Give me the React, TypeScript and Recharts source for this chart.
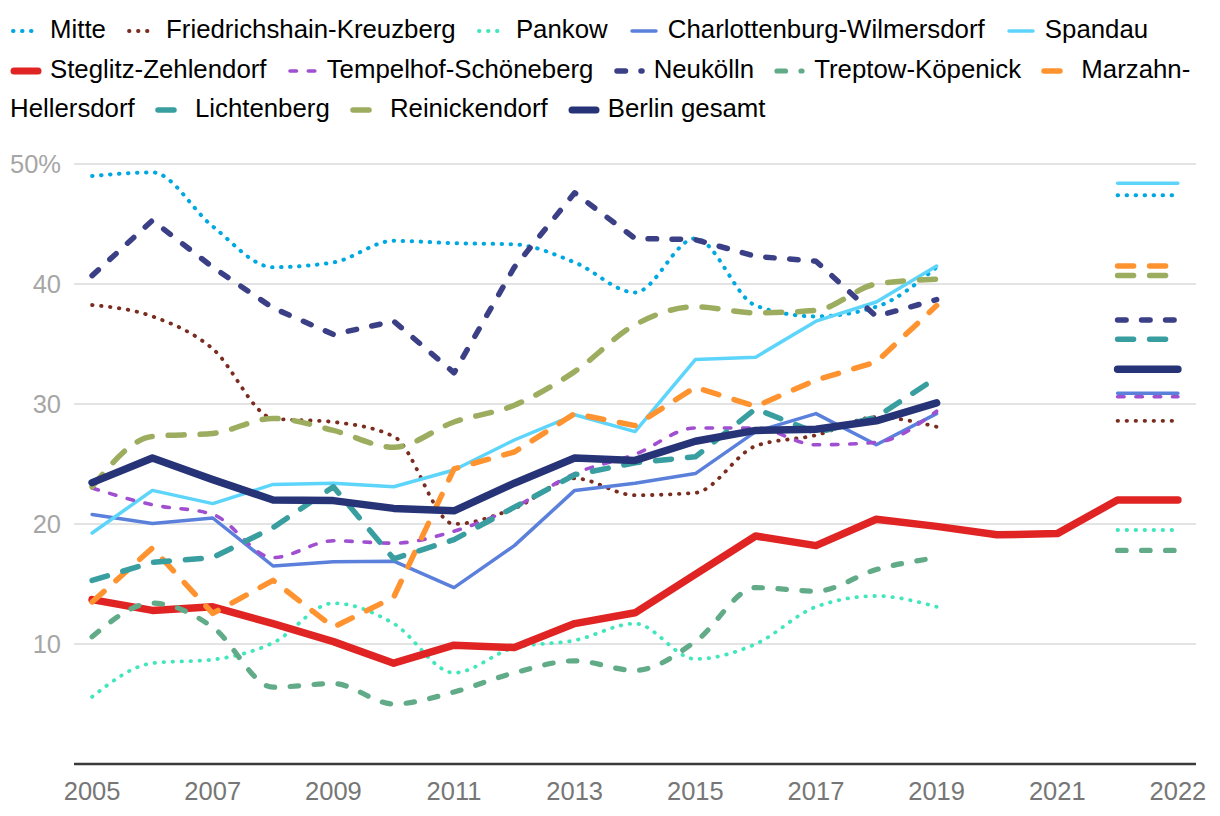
import React from 'react';
import { LineChart, Line, XAxis, YAxis, CartesianGrid } from 'recharts';

// Category labels (index 17 is the extra slot used for the 2022 marker segment)
const years = ['2005', '2006', '2007', '2008', '2009', '2010', '2011', '2012', '2013', '2014', '2015', '2016', '2017', '2018', '2019', '2020', '2021', '', '2022'];
const xTicks = [0, 2, 4, 6, 8, 10, 12, 14, 16, 18];
const yTicks = [0, 10, 20, 30, 40, 50];

const mitte = [49.0, 49.3, 44.8, 41.4, 41.8, 43.6, 43.4, 43.3, 41.8, 39.3, 43.8, 38.2, 37.3, 38.1, 41.4, null, null, 47.4, 47.4];
const friedrichshain = [38.25, 37.3, 34.6, 28.8, 28.5, 27.3, 20.0, 21.3, 23.8, 22.4, 22.6, 26.5, 27.4, 28.9, 28.1, null, null, 28.6, 28.6];
const pankow = [5.6, 8.4, 8.7, 10.1, 13.4, 11.7, 7.6, 9.7, 10.3, 11.7, 8.75, 10.0, 13.1, 14.0, 13.1, null, null, 19.5, 19.5];
const charlottenburg = [20.8, 20.05, 20.5, 16.5, 16.85, 16.9, 14.7, 18.2, 22.8, 23.4, 24.2, 27.7, 29.2, 26.6, 29.2, null, null, 30.9, 30.9];
const spandau = [19.25, 22.8, 21.7, 23.3, 23.4, 23.1, 24.5, 27.0, 29.1, 27.7, 33.7, 33.9, 36.9, 38.5, 41.5, null, null, 48.4, 48.4];
const steglitz = [13.7, 12.8, 13.1, 11.7, 10.2, 8.4, 9.9, 9.7, 11.7, 12.6, 15.8, 19.0, 18.2, 20.4, 19.8, 19.1, 19.2, 22.0, 22.0];
const tempelhof = [23.0, 21.6, 20.8, 17.2, 18.6, 18.4, 19.4, 21.4, 24.2, 25.8, 28.0, 28.0, 26.6, 26.8, 29.4, null, null, 30.6, 30.6];
const neukoelln = [40.7, 45.3, 41.4, 38.0, 35.8, 36.9, 32.6, 41.4, 47.6, 43.8, 43.7, 42.3, 41.9, 37.3, 38.7, null, null, 37.0, 37.0];
const treptow = [10.6, 13.4, 11.4, 6.4, 6.7, 5.0, 6.0, 7.6, 8.6, 7.8, 10.2, 14.7, 14.4, 16.2, 17.2, null, null, 17.8, 17.8];
const marzahn = [13.5, 18.0, 12.55, 15.3, 11.4, 13.9, 24.6, 26.0, 29.2, 28.2, 31.4, 29.8, 32.0, 33.5, 38.2, null, null, 41.5, 41.5];
const lichtenberg = [15.3, 16.8, 17.2, 19.7, 23.1, 17.1, 18.7, 21.4, 24.1, 25.1, 25.6, 29.6, 27.6, 28.9, 32.2, null, null, 35.4, 35.4];
const reinickendorf = [23.1, 27.3, 27.55, 28.8, 27.8, 26.4, 28.5, 29.9, 32.7, 36.6, 38.1, 37.6, 37.8, 40.0, 40.4, null, null, 40.7, 40.7];
const berlin = [23.45, 25.5, 23.7, 22.0, 21.95, 21.3, 21.1, 23.4, 25.5, 25.3, 26.9, 27.8, 27.9, 28.6, 30.1, null, null, 32.9, 32.9];

type SeriesDef = {
  key: string;
  name: string;
  values: (number | null)[];
  color: string;
  width: number;
  dash?: string;
  curve: 'monotone' | 'linear';
};

const series: SeriesDef[] = [
  { key: 'mitte', name: 'Mitte', values: mitte, color: '#00a8e1', width: 4, dash: '0.5 8.5', curve: 'monotone' },
  { key: 'fk', name: 'Friedrichshain-Kreuzberg', values: friedrichshain, color: '#7a2c1f', width: 3.8, dash: '0.5 8.5', curve: 'monotone' },
  { key: 'pankow', name: 'Pankow', values: pankow, color: '#42e6bd', width: 3.8, dash: '0.5 8.5', curve: 'monotone' },
  { key: 'cw', name: 'Charlottenburg-Wilmersdorf', values: charlottenburg, color: '#5b80dc', width: 3.5, curve: 'linear' },
  { key: 'spandau', name: 'Spandau', values: spandau, color: '#5dd5fb', width: 3.5, curve: 'linear' },
  { key: 'sz', name: 'Steglitz-Zehlendorf', values: steglitz, color: '#e02424', width: 7.5, curve: 'linear' },
  { key: 'ts', name: 'Tempelhof-Schöneberg', values: tempelhof, color: '#a04fd1', width: 3.6, dash: '6.5 11.8', curve: 'monotone' },
  { key: 'nk', name: 'Neukölln', values: neukoelln, color: '#3b3f86', width: 5.5, dash: '8.5 15.5', curve: 'linear' },
  { key: 'tk', name: 'Treptow-Köpenick', values: treptow, color: '#62ab88', width: 5.2, dash: '8.5 15.5', curve: 'monotone' },
  { key: 'mh', name: 'Marzahn-Hellersdorf', values: marzahn, color: '#ff9330', width: 5.5, dash: '16 16', curve: 'linear' },
  { key: 'li', name: 'Lichtenberg', values: lichtenberg, color: '#399ea0', width: 5.5, dash: '16 16', curve: 'linear' },
  { key: 'rd', name: 'Reinickendorf', values: reinickendorf, color: '#9cad5f', width: 5.5, dash: '16 16', curve: 'monotone' },
  { key: 'be', name: 'Berlin gesamt', values: berlin, color: '#263376', width: 7.5, curve: 'linear' },
];

const data = years.map((label, i) => {
  const row: Record<string, number | string | null> = { i, label };
  series.forEach((s) => {
    row[s.key] = s.values[i];
  });
  return row;
});

const FONT = '"Liberation Sans", Arial, Helvetica, sans-serif';

function LegendIcon({ s }: { s: SeriesDef }) {
  const w = Math.min(s.width, 7);
  return (
    <svg width={32} height={12} style={{ display: 'inline-block', verticalAlign: 'middle', marginRight: 8 }}>
      <line
        x1={s.dash ? 3 : 4}
        y1={6}
        x2={28}
        y2={6}
        stroke={s.color}
        strokeWidth={w}
        strokeLinecap="round"
        strokeDasharray={s.dash}
      />
    </svg>
  );
}

function LegendBlock() {
  return (
    <div
      style={{
        position: 'absolute',
        left: 2,
        top: 2,
        width: 1200,
        fontFamily: FONT,
        fontSize: 25.8,
        lineHeight: '39.6px',
        color: '#000',
        zIndex: 2,
      }}
    >
      {series.map((s, idx) => {
        const h = s.name.indexOf('-');
        const first = h >= 0 ? s.name.slice(0, h + 1) : s.name;
        const rest = h >= 0 ? s.name.slice(h + 1) : '';
        return (
          <React.Fragment key={s.key}>
            <span style={{ marginRight: 13 }}>
              <span style={{ whiteSpace: 'nowrap' }}>
                <LegendIcon s={s} />
                {first}
              </span>
              {rest ? <wbr /> : null}
              {rest}
            </span>
            {idx < series.length - 1 ? ' ' : null}
          </React.Fragment>
        );
      })}
    </div>
  );
}

export default function App() {
  return (
    <div style={{ position: 'relative', width: 1204, height: 808, fontFamily: FONT }}>
      <LegendBlock />
      <div style={{ position: 'absolute', left: 0, top: 0 }}>
        <LineChart width={1204} height={808} data={data} margin={{ top: 156, right: 16, bottom: 22, left: 0 }}>
          <CartesianGrid horizontal vertical={false} stroke="#e3e3e3" strokeWidth={2} />
          <XAxis
            type="number"
            dataKey="i"
            domain={[-0.3, 18.3]}
            ticks={xTicks}
            tickFormatter={(v: number) => years[v]}
            axisLine={{ stroke: '#3a3a3a', strokeWidth: 2.5 }}
            tickLine={false}
            tickSize={0}
            tickMargin={18}
            height={30}
            tick={{ fill: '#767676', fontSize: 25.5, fontFamily: FONT }}
            interval={0}
          />
          <YAxis
            type="number"
            domain={[0, 50]}
            ticks={yTicks}
            tickFormatter={(v: number) => (v === 0 ? '' : v === 50 ? '50%' : String(v))}
            axisLine={false}
            tickLine={false}
            tickSize={0}
            tickMargin={13}
            width={66}
            tick={{ fill: '#a6a6a6', fontSize: 25.5, fontFamily: FONT }}
            interval={0}
          />
          {series.map((s) => (
            <Line
              key={s.key}
              type={s.curve}
              dataKey={s.key}
              name={s.name}
              stroke={s.color}
              strokeWidth={s.width}
              strokeDasharray={s.dash}
              strokeLinecap="round"
              strokeLinejoin="round"
              dot={false}
              activeDot={false}
              isAnimationActive={false}
            />
          ))}
        </LineChart>
      </div>
    </div>
  );
}
